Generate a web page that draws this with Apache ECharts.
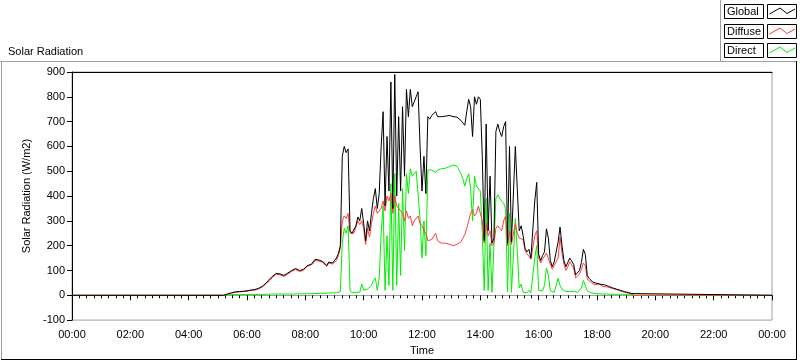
<html>
<head>
<meta charset="UTF-8">
<title>Solar Radiation</title>
<!-- import echarts -->
<script src="https://cdn.jsdelivr.net/npm/echarts@6.0.0/dist/echarts.min.js"></script>
<style>
    body{
        margin: 0;
        background: #fff;
    }
    #main{
        width: 800px;
        height: 361px;
    }
</style>
</head>
<body>
<div id="main"></div>
<script>
// one reading every 4 minutes, first one at 05:12, zero outside that range
var startMinute = 312;
var stepMinutes = 4;
var dayMinutes = 1440;

var seriesNames = ['Global', 'Diffuse', 'Direct'];

var globalVals = [
    0, 2, 5, 8, 10, 12, 14, 15, 15, 16, 16, 17,                              // 05:12 - 05:56
    18, 19, 21, 20, 23, 27, 28, 31, 37, 45, 51, 60, 64, 76, 84,              // 06
    88, 90, 86, 88, 80, 78, 90, 96, 100, 104, 108, 110, 100, 92, 104,        // 07
    112, 120, 122, 124, 132, 145, 150, 142, 140, 136, 128, 120, 134, 142, 130, // 08
    128, 150, 168, 200, 560, 600, 575, 590, 260, 250, 255, 280, 315, 300, 350, // 09
    290, 220, 300, 260, 330, 390, 430, 350, 410, 600, 740, 360, 640, 420, 860, // 10
    350, 890, 400, 720, 420, 760, 480, 830, 720, 830, 760, 780, 800, 820, 600, // 11
    420, 560, 410, 720, 710, 725, 720, 740, 720, 725, 720, 728, 722, 730, 725, // 12
    728, 720, 725, 718, 712, 705, 695, 685, 740, 790, 760, 640, 800, 770, 800, // 13
    790, 560, 220, 690, 260, 480, 210, 230, 660, 690, 660, 640, 680, 700, 210, // 14
    600, 215, 220, 600, 430, 260, 280, 240, 190, 175, 185, 150, 145, 380, 455, // 15
    165, 140, 160, 175, 268, 230, 140, 115, 135, 140, 215, 275, 200, 140, 115, // 16
    133, 150, 150, 125, 82, 80, 100, 133, 185, 165, 80, 68, 60, 52, 48,      // 17
    48, 50, 44, 40, 42, 38, 36, 33, 30, 28, 25, 22, 20, 17, 15,              // 18
    13, 11, 9, 7, 0                                                          // 19:00 - 19:16
];

var diffuseVals = [
    0, 2, 5, 7, 9, 11, 12, 13, 14, 14, 15, 16,
    16, 18, 20, 19, 21, 25, 26, 29, 34, 42, 48, 56, 61, 72, 80,
    85, 87, 83, 85, 76, 74, 86, 92, 96, 100, 104, 106, 96, 88, 100,
    110, 118, 120, 120, 128, 140, 146, 138, 136, 132, 124, 116, 130, 138, 126,
    124, 140, 160, 190, 300, 320, 310, 330, 250, 245, 250, 275, 300, 285, 300,
    270, 205, 270, 235, 290, 330, 360, 330, 340, 350, 380, 340, 400, 380, 410,
    330, 400, 360, 350, 340, 330, 300, 340, 310, 320, 280, 300, 300, 320, 290,
    280, 260, 250, 220, 215, 225, 218, 250, 220, 215, 210, 212, 210, 208, 206,
    205, 200, 203, 205, 210, 215, 230, 245, 270, 300, 330, 345, 320, 330, 360,
    360, 300, 210, 290, 240, 260, 200, 210, 270, 280, 270, 260, 300, 320, 200,
    260, 205, 210, 290, 250, 230, 235, 225, 180, 168, 170, 145, 140, 240, 260,
    150, 130, 145, 150, 170, 170, 125, 105, 120, 125, 150, 235, 170, 125, 100,
    115, 135, 135, 110, 70, 68, 85, 105, 130, 120, 65, 58, 52, 46, 42,
    44, 46, 40, 36, 38, 34, 32, 30, 27, 25, 22, 20, 18, 15, 13,
    11, 9, 8, 6, 0
];

var directVals = [
    0, 0, 2, 2, 3, 3, 3, 3, 3, 3, 3, 3,
    3, 3, 3, 3, 3, 3, 3, 3, 3, 4, 4, 5, 5, 5, 5,
    5, 5, 5, 5, 5, 5, 5, 5, 5, 5, 6, 6, 6, 6, 6,
    6, 6, 6, 6, 7, 7, 7, 7, 8, 8, 8, 8, 9, 9, 10,
    10, 10, 12, 15, 210, 270, 250, 280, 20, 10, 8, 12, 15, 12, 45,
    20, 15, 25, 25, 40, 60, 70, 20, 70, 250, 360, 20, 240, 40, 450,
    20, 490, 40, 370, 80, 430, 180, 490, 410, 510, 480, 480, 500, 500, 310,
    150, 300, 160, 505, 500, 505, 500, 495, 505, 510, 510, 515, 512, 520, 518,
    522, 525, 528, 520, 505, 490, 470, 440, 470, 490, 430, 300, 480, 440, 440,
    420, 250, 20, 390, 20, 210, 12, 20, 390, 405, 390, 380, 370, 350, 15,
    330, 12, 15, 310, 180, 30, 45, 12, 15, 10, 20, 10, 8, 150, 200,
    20, 15, 18, 40, 110, 80, 18, 12, 12, 15, 68, 40, 25, 18, 15,
    18, 15, 15, 15, 12, 12, 15, 30, 60, 55, 18, 12, 10, 8, 7,
    6, 6, 5, 5, 5, 5, 4, 4, 4, 4, 4, 4, 4, 4, 4,
    4, 4, 4, 4, 0
];

function fmtTime(m) {
    m = m % dayMinutes;
    var h = Math.floor(m / 60), mm = m % 60;
    return (h < 10 ? '0' : '') + h + ':' + (mm < 10 ? '0' : '') + mm;
}

// [minute, value] pairs, flat zero from midnight to midnight around the readings
function toPoints(vals) {
    var pts = [[0, 0]];
    vals.forEach(function (v, i) {
        pts.push([startMinute + i * stepMinutes, v]);
    });
    pts.push([dayMinutes, 0]);
    return pts;
}

var colors = ['#000000', '#ff3c3c', '#00f000'];
var font = '"Liberation Sans", Arial, sans-serif';

// LabVIEW style legend: name in a box, sample line in a box
var legendParts = [];
seriesNames.forEach(function (name, i) {
    var top = Math.round(4 + i * 19.5);
    legendParts.push({
        type: 'rect',
        shape: { x: 724.5, y: top + 0.5, width: 39, height: 14 },
        style: { fill: '#fff', stroke: '#000', lineWidth: 1 }
    });
    legendParts.push({
        type: 'text',
        x: 727, y: top + 8,
        style: { text: name, font: '11px ' + font, fill: '#000', verticalAlign: 'middle' }
    });
    legendParts.push({
        type: 'rect',
        shape: { x: 767.5, y: top + 0.5, width: 29, height: 14 },
        style: { fill: '#fff', stroke: '#000', lineWidth: 1 }
    });
    legendParts.push({
        type: 'polyline',
        shape: { points: [[769.5, top + 10], [780, top + 4], [787, top + 9.5], [795, top + 5]] },
        style: { stroke: colors[i], fill: null, lineWidth: 1 }
    });
});

var frameParts = [
    { type: 'line', shape: { x1: 0, y1: 61.5, x2: 797, y2: 61.5 }, style: { stroke: '#a0a0a0' } },
    { type: 'line', shape: { x1: 1.5, y1: 61.5, x2: 1.5, y2: 359 }, style: { stroke: '#a0a0a0' } },
    { type: 'line', shape: { x1: 796.5, y1: 61, x2: 796.5, y2: 360 }, style: { stroke: '#000' } },
    { type: 'line', shape: { x1: 1, y1: 359.5, x2: 797, y2: 359.5 }, style: { stroke: '#000' } },
    { type: 'line', shape: { x1: 720.5, y1: 0, x2: 720.5, y2: 61.5 }, style: { stroke: '#a0a0a0' } }
];

var myChart = echarts.init(document.getElementById('main'));

option = {
    animation: false,
    backgroundColor: '#fff',
    title: {
        text: 'Solar Radiation',
        left: 3,
        top: 41,
        textStyle: { fontFamily: font, fontSize: 11, fontWeight: 'normal', color: '#000' }
    },
    grid: {
        left: 72, right: 28, top: 72, bottom: 38,
        show: true,
        borderColor: '#a0a0a0',
        borderWidth: 1,
        backgroundColor: '#fff'
    },
    graphic: frameParts.concat(legendParts),
    xAxis: [{
        type: 'value',
        min: 0,
        max: dayMinutes,
        interval: 120,
        name: 'Time',
        nameLocation: 'middle',
        nameGap: 22,
        nameTextStyle: { fontFamily: font, fontSize: 11, color: '#000' },
        axisLine: { lineStyle: { color: '#a0a0a0' } },
        axisTick: { length: 5, lineStyle: { color: '#000' } },
        minorTick: { show: true, splitNumber: 8, length: 3, lineStyle: { color: '#000' } },
        axisLabel: { fontFamily: font, fontSize: 11, color: '#000', margin: 9, formatter: fmtTime },
        splitLine: { show: false }
    }, {
        type: 'value',
        position: 'top',
        min: 0,
        max: dayMinutes,
        axisLine: { show: true, lineStyle: { color: '#000' } },
        axisTick: { show: false },
        axisLabel: { show: false },
        splitLine: { show: false }
    }],
    yAxis: {
        type: 'value',
        min: -100,
        max: 900,
        interval: 100,
        name: 'Solar Radiation (W/m2)',
        nameLocation: 'middle',
        nameGap: 33,
        nameTextStyle: { fontFamily: font, fontSize: 11, color: '#000' },
        axisLine: { show: true, lineStyle: { color: '#000' } },
        axisTick: { show: true, length: 5, lineStyle: { color: '#000' } },
        axisLabel: { fontFamily: font, fontSize: 11, color: '#000', margin: 7 },
        splitLine: { show: false }
    },
    series: [{
        name: seriesNames[0],
        type: 'line',
        z: 4,
        showSymbol: false,
        lineStyle: { width: 1, color: colors[0] },
        itemStyle: { color: colors[0] },
        data: toPoints(globalVals)
    }, {
        name: seriesNames[1],
        type: 'line',
        z: 3,
        showSymbol: false,
        lineStyle: { width: 1, color: colors[1] },
        itemStyle: { color: colors[1] },
        data: toPoints(diffuseVals)
    }, {
        name: seriesNames[2],
        type: 'line',
        z: 2,
        showSymbol: false,
        lineStyle: { width: 1, color: colors[2] },
        itemStyle: { color: colors[2] },
        data: toPoints(directVals)
    }]
};

myChart.setOption(option);
</script>
</body>
</html>
